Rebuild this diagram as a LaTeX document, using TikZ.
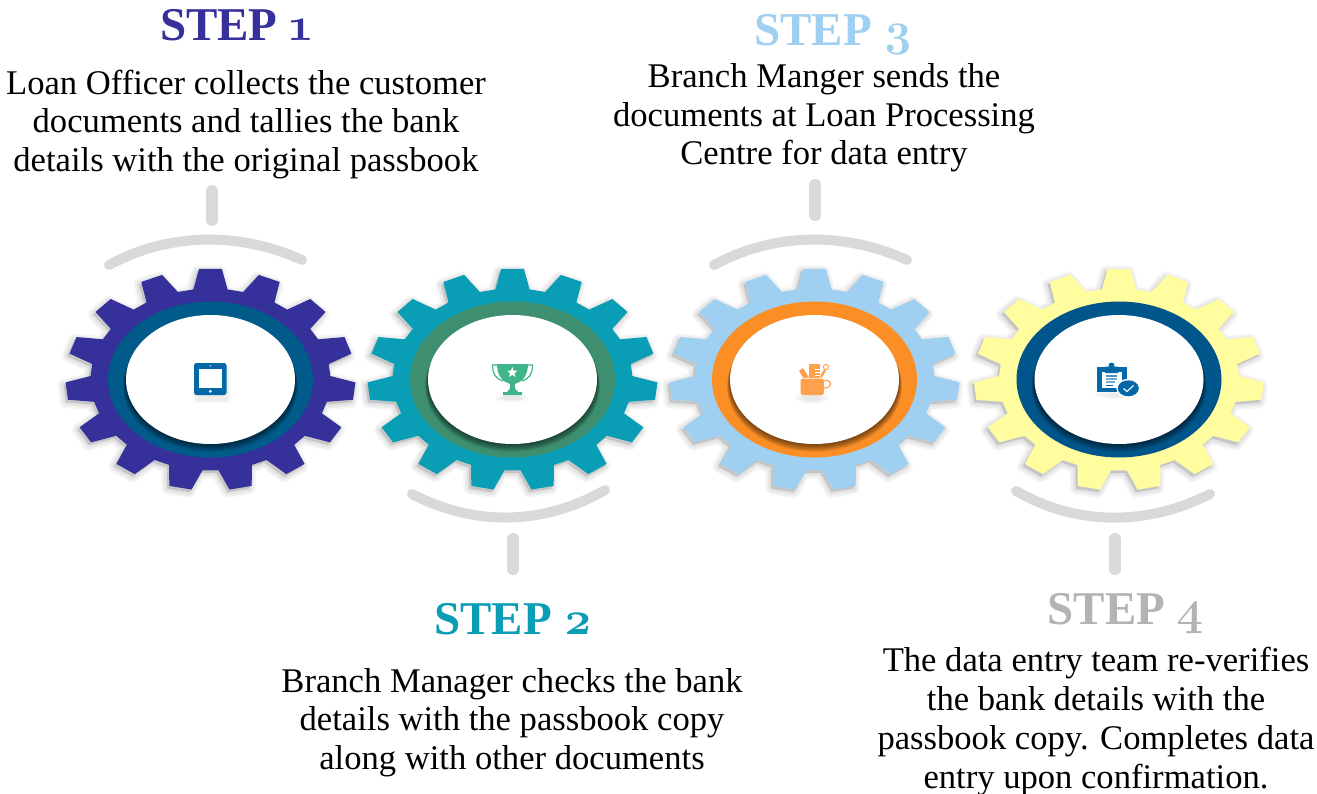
\documentclass[tikz,border=0pt]{standalone}
\usepackage{fontspec}
\setmainfont{Liberation Serif}
\newfontfamily\oldnum[Numbers=OldStyle]{Latin Modern Roman}
\usetikzlibrary{shapes.geometric}
\definecolor{cone}{HTML}{36309A}
\definecolor{ctwo}{HTML}{0A9DB6}
\definecolor{cthree}{HTML}{9FCFF1}
\definecolor{cfour}{HTML}{FFFD9E}
\definecolor{rone}{HTML}{005A8A}
\definecolor{rtwo}{HTML}{3D8F70}
\definecolor{rthree}{HTML}{FB8F26}
\definecolor{rfour}{HTML}{00558A}
\definecolor{gbar}{HTML}{D9D9D9}
\definecolor{sfour}{HTML}{B3B3B3}
\definecolor{itab}{HTML}{0468A8}
\definecolor{itro}{HTML}{40B58A}
\definecolor{imug}{HTML}{FFA04C}
\tikzset{
  stepword/.style={font=\fontsize{47}{47}\selectfont\bfseries, inner sep=0pt, anchor=center},
  body/.style={font=\fontsize{34.6}{38.7}\selectfont, align=center, inner sep=0pt, anchor=center},
  greybar/.style={draw=gbar, line width=10pt, line cap=round},
  greytick/.style={draw=gbar, line width=12pt, line cap=round},
}
\newcommand{\gearpath}{
  (90+8.2:120pt and 91pt)
  \foreach \k in {0,...,14}{
    -- ({90-24*\k+4.5}:145pt and 111pt)
    -- ({90-24*\k-4.5}:145pt and 111pt)
    -- ({90-24*\k-8.2}:120pt and 91pt)
    -- ({90-24*(\k+1)+8.2}:120pt and 91pt)
  } -- cycle
}
% center x, gear colour, ring colour
\newcommand{\gearat}[3]{
  \begin{scope}[shift={(#1,379.5)}]
    \begin{scope}[shift={(-2pt,-2.5pt)}]
      \foreach \w in {12,9,6,3}{
        \draw[black, opacity=0.03, line width=\w pt, line join=round, fill=black] \gearpath;
      }
    \end{scope}
    \fill[#2] \gearpath;
    \fill[#3] (0,0) ellipse [x radius=102.5pt, y radius=78pt];
    \foreach \s in {0,1,...,7}{
      \fill[black, opacity=0.09] (0pt,-\s pt) ellipse [x radius=84.5pt+0.4pt*\s, y radius=64.5pt+0.1pt*\s];
    }
    \fill[white] (0,0) ellipse [x radius=84.5pt, y radius=64.5pt];
  \end{scope}
}
\begin{document}
\begin{tikzpicture}[x=1pt,y=-1pt]
\useasboundingbox (0,0) rectangle (1317,794);
\fill[white] (0,0) rectangle (1317,794);

\gearat{210.5}{cone}{rone}
\gearat{512.5}{ctwo}{rtwo}
\gearat{814.5}{cthree}{rthree}
\gearat{1119}{cfour}{rfour}

% grey brackets
\draw[greybar] (109,265) .. controls (170,232) and (240,232) .. (302,260);
\draw[greytick] (212,191) -- (212,220);
\draw[greybar] (714,265) .. controls (775,232) and (845,232) .. (907,260);
\draw[greytick] (815,185) -- (815,215);
\draw[greybar] (412,494) .. controls (473,526) and (543,526) .. (605,490);
\draw[greytick] (513,539) -- (513,569);
\draw[greybar] (1016,491) .. controls (1077,526) and (1147,526) .. (1210,494);
\draw[greytick] (1115,539) -- (1115,569);

% tablet icon
\foreach \w in {6,4,2}{\fill[black,opacity=.025,rounded corners=2pt] (197-\w/2,368-\w/2) rectangle (227+\w/2,400+\w/2);}
\fill[itab, rounded corners=2.5pt] (194,363) rectangle (226.5,395);
\fill[white] (199,368.5) rectangle (222,388);
\fill[white] (210.3,391.3) circle (1.6pt);
\fill[white] (210.3,365.8) circle (0.7pt);

% trophy icon
\foreach \w in {1,2,3}{\fill[black,opacity=.03] (512,398) ellipse [x radius=5pt+4pt*\w, y radius=1pt+1pt*\w];}
\draw[itro, line width=1.2pt] (497,365) -- (492.5,365) .. controls (492.5,374) and (496,379) .. (503,381);
\draw[itro, line width=1.2pt] (527,365) -- (532.5,365) .. controls (532.5,374) and (529,379) .. (522,381);
\fill[itro] (497,364) -- (528,364) .. controls (528,376) and (522,382) .. (515,384)
  .. controls (514.5,389) and (516,391) .. (518,392) -- (522,392) -- (522,395) -- (503,395) -- (503,392) -- (507,392)
  .. controls (509,391) and (510.5,389) .. (510,384) .. controls (503,382) and (497,376) .. (497,364) -- cycle;
\node[star, star points=5, star point ratio=2.4, fill=white, inner sep=0pt, minimum size=11pt] (trophystar) at (512.3,372.5) {};

% mug icon
\foreach \w in {1,2,3}{\fill[black,opacity=.03] (812,398) ellipse [x radius=5pt+4pt*\w, y radius=1pt+1.5pt*\w];}
\fill[imug] (808.5,364) rectangle (820,378);
\draw[white, line width=0.8pt] (815,369) -- (820,369) (815,372) -- (820,372) (815,375) -- (820,375);
\fill[imug] (799,371) -- (803,368) -- (809,377.5) -- (803.5,378) -- cycle;
\draw[imug, line width=2.4pt] (821,377) -- (825,370);
\draw[imug, line width=1pt] (826,367) circle (2.6pt);
\fill[imug, rounded corners=2.5pt] (800.5,378.5) -- (824,378.5) -- (824,395) -- (800.5,395) -- cycle;
\draw[imug, line width=1.2pt] (824,380.5) .. controls (833,379.5) and (833,388) .. (824,388);

% clipboard icon
\foreach \w in {1,2,3}{\fill[black,opacity=.025] (1114,395) ellipse [x radius=8pt+4pt*\w, y radius=1pt+1pt*\w];}
\fill[itab] (1097,367) rectangle (1127,392);
\fill[white] (1102,372) rectangle (1122,388);
\fill[itab, rounded corners=1.5pt] (1104,366.5) rectangle (1119,373);
\fill[itab] (1111.5,365.5) circle (3pt);
\fill[itab!70] (1106,375) rectangle (1117,376.6);
\fill[itab!55] (1106,378.2) rectangle (1117,379.8);
\fill[itab!55] (1106,381.4) rectangle (1115,383);
\fill[itab] (1106,384.6) rectangle (1113,386);
\fill[white] (1128.3,388.3) ellipse [x radius=12pt, y radius=9.5pt];
\fill[itab] (1128.3,388.3) ellipse [x radius=10.5pt, y radius=8pt];
\draw[white, line width=1.1pt] (1123.5,388.5) -- (1127,391.5) -- (1133.5,385.5);

% texts
\node[stepword, text=cone] (stepone) at (236,25) {STEP {\oldnum 1}};
\node[body] (bodyone) at (246,124.5) {Loan Officer collects the customer\\documents and tallies the bank\\details with the original passbook};
\node[stepword, text=cthree] (stepthree) at (834,35) {STEP {\oldnum 3}};
\node[body] (bodythree) at (824,118) {Branch Manger sends the\\documents at Loan Processing\\Centre for data entry};
\node[stepword, text=ctwo] (steptwo) at (513.5,619) {STEP {\oldnum 2}};
\node[body] (bodytwo) at (512,722.5) {Branch Manager checks the bank\\details with the passbook copy\\along with other documents};
\node[stepword, text=sfour] (stepfour) at (1126,613) {STEP {\oldnum 4}};
\node[body] (bodyfour) at (1096,721.5) {The data entry team re-verifies\\the bank details with the\\passbook copy. Completes data\\entry upon confirmation.};
\end{tikzpicture}
\end{document}
